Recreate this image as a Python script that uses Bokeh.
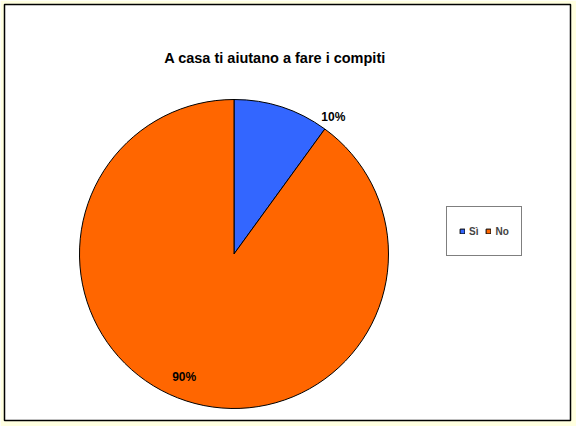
import math

from bokeh.plotting import figure
from bokeh.models import ColumnDataSource, Range1d, Label, Legend, LegendItem
from bokeh.embed import file_html
from bokeh.resources import INLINE

# data
labels = ["Sì", "No"]
shares = [10, 90]
colors = ["#3366FF", "#FF6600"]
title = "A casa ti aiutano a fare i compiti"

# layout (frame units are pixels)
cx, cy, r = 229.5, 166.5, 154.5
lab_angle = [54, 248]  # degrees, where the % labels sit
lab_dist = [169, 133]

total = sum(shares)
starts, ends, cum = [], [], 0.0
for v in shares:
    starts.append(math.pi / 2 - 2 * math.pi * cum / total)
    cum += v
    ends.append(math.pi / 2 - 2 * math.pi * cum / total)

p = figure(
    width=576,
    height=426,
    x_range=Range1d(0, 566),
    y_range=Range1d(0, 416),
    x_axis_type=None,
    y_axis_type=None,
    toolbar_location=None,
    tools="",
    output_backend="svg",
    min_border_left=4,
    min_border_top=4,
    min_border_right=6,
    min_border_bottom=6,
)
p.grid.visible = False
p.background_fill_color = "white"
p.border_fill_color = "#FFFFE0"
p.outline_line_color = "black"
p.outline_line_width = 1.5

items = []
for lab, s, e, c in zip(labels, starts, ends, colors):
    src = ColumnDataSource(dict(x=[cx], y=[cy], s=[s], e=[e]))
    w = p.wedge(
        x="x", y="y", radius=r, start_angle="s", end_angle="e",
        direction="clock", source=src, fill_color=c, line_color="black",
        line_width=1,
    )
    items.append(LegendItem(label=lab, renderers=[w]))

for v, a, d in zip(shares, lab_angle, lab_dist):
    t = math.radians(a)
    p.add_layout(Label(
        x=cx + d * math.cos(t), y=cy + d * math.sin(t),
        text=f"{round(100 * v / total)}%",
        text_font="Liberation Sans", text_font_style="bold",
        text_font_size="12px", text_align="center", text_baseline="middle",
        text_color="black",
    ))

p.add_layout(Label(
    x=270.5, y=362.5, text=title,
    text_font="Liberation Sans", text_font_style="bold",
    text_font_size="14.5px", text_align="center", text_baseline="middle",
    text_color="black",
))

legend = Legend(
    items=items,
    orientation="horizontal",
    location=(442, 164),
    margin=0,
    padding=12,
    spacing=7,
    glyph_width=6,
    glyph_height=6,
    label_standoff=4,
    label_width=0,
    label_height=24,
    label_text_font="Liberation Sans",
    label_text_font_style="bold",
    label_text_font_size="10px",
    border_line_color="black",
    border_line_width=1.5,
    background_fill_color="white",
    background_fill_alpha=1,
)
p.add_layout(legend, "center")

open("out.html", "w").write(file_html(p, INLINE))
